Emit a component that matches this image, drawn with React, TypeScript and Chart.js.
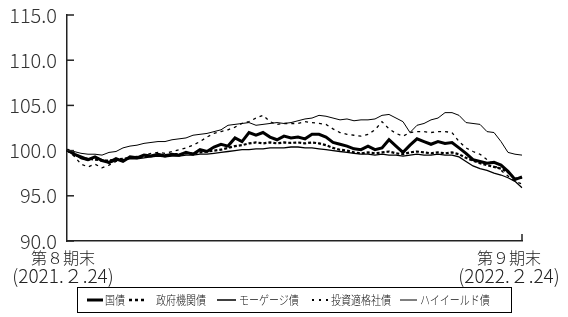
import React, { useEffect, useRef } from "react";
import { Chart, registerables } from "chart.js";
Chart.register(...registerables);

const FONT = '"Noto Sans CJK JP", "Noto Sans", sans-serif';

// trading-day index positions (start of 8th period .. end of 9th period)
const days = Array.from({ length: 66 }, (_, i) => String(i));

const jgb = [
  100.1, 99.6, 99.3, 99.0, 99.3, 98.9, 98.7, 99.1, 98.8, 99.3,
  99.2, 99.5, 99.4, 99.6, 99.4, 99.6, 99.5, 99.8, 99.6, 100.1,
  99.9, 100.4, 100.7, 100.5, 101.4, 101.0, 102.0, 101.7, 102.0, 101.5,
  101.2, 101.6, 101.4, 101.5, 101.3, 101.8, 101.8, 101.5, 100.9, 100.7,
  100.5, 100.2, 100.1, 100.5, 100.1, 100.3, 101.2, 100.5, 99.8, 100.6,
  101.3, 101.0, 100.7, 101.0, 100.8, 100.9, 100.3, 99.7, 99.0, 98.8,
  98.6, 98.7, 98.4, 97.7, 96.8, 97.1,
];
const agency = [
  100.0, 99.7, 99.2, 99.1, 99.0, 98.9, 98.9, 99.0, 99.1, 99.2,
  99.3, 99.3, 99.4, 99.5, 99.5, 99.6, 99.6, 99.7, 99.7, 99.8,
  99.9, 100.0, 100.1, 100.3, 100.5, 100.6, 100.8, 100.9, 100.8, 100.9,
  100.8, 100.9, 100.85, 100.9, 100.8, 100.9, 100.8, 100.6, 100.3, 100.1,
  100.0, 99.8, 99.7, 99.8, 99.7, 99.8, 99.9, 99.7, 99.6, 99.8,
  99.9, 99.8, 99.7, 99.8, 99.7, 99.8, 99.6, 99.2, 98.9, 98.6,
  98.4, 98.2, 98.0, 97.6, 96.9, 97.0,
];
const mortgage = [
  100.0, 99.6, 99.1, 98.9, 99.3, 99.0, 98.6, 98.9, 99.0, 99.1,
  99.1, 99.2, 99.3, 99.4, 99.3, 99.4, 99.4, 99.5, 99.5, 99.6,
  99.6, 99.7, 99.8, 99.9, 100.0, 100.1, 100.1, 100.2, 100.2, 100.3,
  100.3, 100.3, 100.4, 100.4, 100.3, 100.3, 100.2, 100.1, 100.0, 99.9,
  99.8, 99.7, 99.6, 99.6, 99.5, 99.6, 99.5, 99.5, 99.4, 99.5,
  99.6, 99.5, 99.5, 99.6, 99.5, 99.5, 99.3, 98.8, 98.3, 98.0,
  97.8, 97.5, 97.3, 97.0, 96.6, 95.9,
];
const igCorp = [
  100.0, 99.4, 98.5, 98.2, 98.5, 98.1, 98.4, 98.8, 99.0, 99.2,
  99.3, 99.5, 99.7, 99.8, 99.7, 99.9, 100.1, 100.3, 100.6, 101.0,
  101.5, 101.9, 102.1, 102.3, 102.6, 103.0, 103.2, 103.6, 103.9, 103.2,
  102.9, 103.0, 103.0, 103.0, 103.2, 103.1, 103.0, 102.9, 102.4, 102.0,
  101.8, 101.7, 101.6, 101.8, 102.3, 103.2, 102.4, 101.9, 101.6, 102.0,
  102.1, 102.1, 102.0, 102.1, 102.1, 102.0, 101.0, 100.3, 99.9, 99.6,
  99.0, 98.4, 97.8, 97.2, 96.6, 96.3,
];
const highYield = [
  100.1, 99.9, 99.7, 99.6, 99.6, 99.5, 99.8, 99.9, 100.3, 100.5,
  100.6, 100.8, 100.9, 101.0, 101.0, 101.2, 101.3, 101.4, 101.7, 101.8,
  101.9, 102.1, 102.3, 102.8, 102.9, 103.0, 103.1, 102.8, 102.9, 103.0,
  103.1, 103.0, 103.1, 103.3, 103.5, 103.6, 103.9, 103.8, 103.6, 103.4,
  103.5, 103.3, 103.4, 103.4, 103.5, 103.9, 104.0, 103.6, 103.2, 102.0,
  102.8, 103.0, 103.4, 103.6, 104.2, 104.2, 103.9, 103.1, 103.0, 102.9,
  102.1, 102.0, 101.0, 99.8, 99.6, 99.5,
];

const yTicks = [90, 95, 100, 105, 110, 115];
const startLabel = ["第８期末", "(2021.２.24)"];
const endLabel = ["第９期末", "(2022.２.24)"];
const seriesNames = ["国債", "政府機関債", "モーゲージ債", "投資適格社債", "ハイイールド債"];

const decor = {
  id: "decor",
  afterDraw(chart: any) {
    const { ctx, chartArea: a, scales } = chart;
    const y = scales.y;
    ctx.save();
    ctx.strokeStyle = "#222";
    ctx.lineWidth = 1.5;
    yTicks.forEach((v) => {
      const py = y.getPixelForValue(v);
      ctx.beginPath();
      ctx.moveTo(a.left, py);
      ctx.lineTo(a.left + 7, py);
      ctx.stroke();
    });
    ctx.beginPath();
    ctx.moveTo(a.right, a.bottom);
    ctx.lineTo(a.right, a.bottom - 7);
    ctx.stroke();

    ctx.fillStyle = "#222";
    ctx.textAlign = "center";
    ctx.textBaseline = "middle";
    const drawPair = (lines: string[], cx: number) => {
      ctx.font = `300 16px ${FONT}`;
      ctx.fillText(lines[0], cx, a.bottom + 17);
      ctx.font = `300 19px ${FONT}`;
      ctx.fillText(lines[1], cx, a.bottom + 35);
    };
    drawPair(startLabel, a.left - 4);
    drawPair(endLabel, a.right - 13);
    ctx.restore();
  },
};

const legendItems = [
  { name: seriesNames[0], lineX: 87, lineW: 16, width: 3, dash: "", textX: 105 },
  { name: seriesNames[1], lineX: 129, lineW: 16, width: 2.5, dash: "3 3", textX: 156 },
  { name: seriesNames[2], lineX: 217, lineW: 19, width: 1.5, dash: "", textX: 239 },
  { name: seriesNames[3], lineX: 312, lineW: 16, width: 2, dash: "2 5", textX: 331 },
  { name: seriesNames[4], lineX: 400, lineW: 17, width: 1, dash: "", textX: 420 },
];

export default function App() {
  const ref = useRef<HTMLCanvasElement>(null);
  useEffect(() => {
    if (!ref.current) return;
    const chart = new Chart(ref.current, {
      type: "line",
      data: {
        labels: days,
        datasets: [
          { label: seriesNames[0], data: jgb, borderColor: "#000", borderWidth: 3 },
          { label: seriesNames[1], data: agency, borderColor: "#000", borderWidth: 2.2, borderDash: [3, 2] },
          { label: seriesNames[2], data: mortgage, borderColor: "#000", borderWidth: 1.3 },
          { label: seriesNames[3], data: igCorp, borderColor: "#000", borderWidth: 1.3, borderDash: [3, 4] },
          { label: seriesNames[4], data: highYield, borderColor: "#000", borderWidth: 1 },
        ].map((d) => ({ ...d, pointRadius: 0, tension: 0, fill: false })),
      },
      options: {
        responsive: false,
        animation: false,
        layout: { padding: { top: 15, right: 46, left: 0, bottom: 0 } },
        plugins: { legend: { display: false }, tooltip: { enabled: false } },
        scales: {
          x: {
            type: "category",
            ticks: { display: false },
            grid: { display: false, drawTicks: false },
            border: { display: true, color: "#222", width: 1.5 },
            afterFit: (s: any) => {
              s.height = 76;
              s.paddingLeft = 0;
              s.paddingRight = 0;
            },
          },
          y: {
            min: 90,
            max: 115,
            ticks: {
              stepSize: 5,
              padding: 10,
              color: "#333",
              font: { family: FONT, size: 20, weight: "300" },
              callback: (v: any) => Number(v).toFixed(1),
            },
            grid: { display: false, drawTicks: false },
            border: { display: true, color: "#222", width: 1.5 },
            afterFit: (s: any) => {
              s.width = 67;
              s.paddingTop = 0;
              s.paddingBottom = 0;
            },
          },
        },
      },
      plugins: [decor],
    });
    return () => chart.destroy();
  }, []);

  return (
    <div style={{ position: "fixed", left: 0, top: 0, width: 568, height: 317, background: "#fff", fontFamily: FONT }}>
      <canvas ref={ref} width={568} height={317} style={{ position: "absolute", left: 0, top: 0 }} />
      <div
        style={{
          position: "absolute",
          left: 77,
          top: 287,
          width: 435,
          height: 26,
          boxSizing: "border-box",
          border: "1px solid #000",
        }}
      />
      {legendItems.map((it) => (
        <React.Fragment key={it.name}>
          <svg
            width={it.lineW}
            height={6}
            style={{ position: "absolute", left: it.lineX, top: 297 }}
          >
            <line
              x1={0}
              y1={3}
              x2={it.lineW}
              y2={3}
              stroke="#000"
              strokeWidth={it.width}
              strokeDasharray={it.dash || undefined}
            />
          </svg>
          <span
            style={{
              position: "absolute",
              left: it.textX,
              top: 291,
              fontSize: 12.5,
              fontWeight: 300,
              lineHeight: "18px",
              color: "#111",
              whiteSpace: "nowrap",
              transform: "scaleX(0.8)",
              transformOrigin: "left center",
            }}
          >
            {it.name}
          </span>
        </React.Fragment>
      ))}
    </div>
  );
}
